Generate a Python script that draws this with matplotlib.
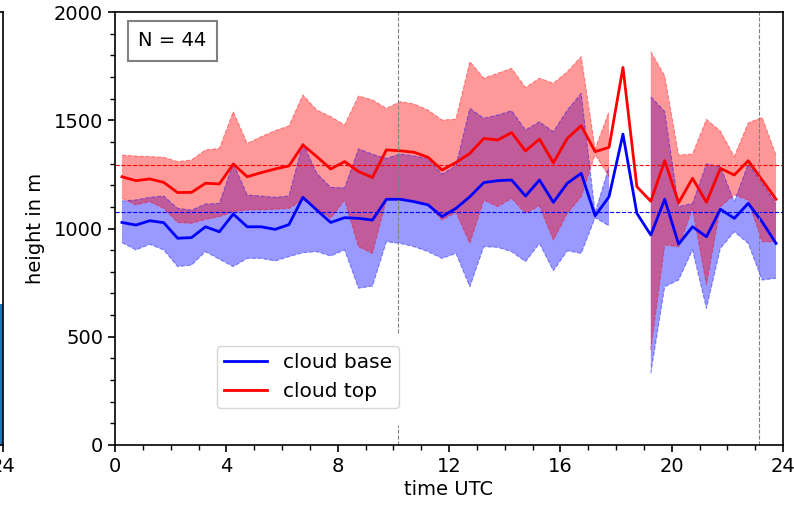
import numpy as np
import matplotlib.pyplot as plt
from matplotlib.ticker import MultipleLocator

nan = np.nan

# half-hour bins, centred on quarter hours
hours = np.arange(48) * 0.5 + 0.25

# cloud base: mean, upper and lower edge of band (m)
base_mean = [1028, 1016, 1036, 1027, 955, 958, 1008, 985, 1067, 1008, 1008, 996,
             1018, 1144, 1085, 1028, 1050, 1047, 1039, 1135, 1135, 1124, 1109, 1055,
             1093, 1147, 1212, 1221, 1224, 1150, 1224, 1121, 1209, 1255, 1059, 1147,
             1436, 1070, 970, 1135, 928, 1008, 962, 1089, 1047, 1116, 1031, 931]
base_upper = [1127, 1132, 1144, 1150, 1093, 1085, 1113, 1116, 1301, 1155, 1150, 1144,
              1150, 1393, 1255, 1190, 1188, 1368, 1343, 1324, 1344, 1335, 1324, 1251,
              1290, 1555, 1509, 1524, 1544, 1455, 1493, 1447, 1547, 1624, 1073, 1286,
              nan, nan, 1609, 1540, 1101, 1116, 1298, 1286, 1124, 1298, 1209, 1116]
base_lower = [935, 901, 927, 901, 824, 831, 893, 858, 824, 862, 862, 850,
              870, 888, 893, 873, 901, 724, 734, 939, 931, 916, 893, 862,
              885, 731, 916, 913, 893, 847, 931, 805, 897, 885, 1050, 1012,
              nan, nan, 331, 731, 762, 901, 631, 908, 985, 931, 762, 770]

# cloud top
top_mean = [1239, 1221, 1229, 1213, 1166, 1167, 1209, 1206, 1298, 1239, 1258, 1275,
            1289, 1386, 1332, 1275, 1309, 1263, 1236, 1363, 1359, 1352, 1329, 1270,
            1305, 1347, 1416, 1409, 1443, 1358, 1413, 1304, 1416, 1475, 1355, 1375,
            1744, 1193, 1126, 1313, 1119, 1232, 1121, 1278, 1247, 1313, 1224, 1135]
top_upper = [1339, 1335, 1332, 1329, 1309, 1316, 1363, 1370, 1540, 1393, 1424, 1452,
             1474, 1617, 1547, 1517, 1478, 1612, 1594, 1555, 1586, 1575, 1547, 1501,
             1505, 1771, 1694, 1717, 1740, 1651, 1694, 1671, 1724, 1794, 1368, 1540,
             nan, nan, 1817, 1705, 1339, 1344, 1504, 1450, 1332, 1488, 1513, 1339]
top_lower = [1139, 1109, 1124, 1093, 1028, 1024, 1042, 1055, 1078, 1086, 1086, 1089,
             1093, 1132, 1093, 1047, 1132, 916, 885, 1132, 1132, 1124, 1109, 1039,
             1075, 932, 1132, 1101, 1139, 1070, 1105, 947, 1070, 1147, 1342, 1239,
             nan, nan, 439, 924, 916, 1093, 739, 1101, 1155, 1132, 939, 939]

base_avg = 1078
top_avg = 1293
sun_times = [10.17, 23.14]
n_days = 44

# neighbouring panel, only its edge is visible
left_bar_x = [23.5]
left_bar_h = [650]

plt.rcParams['font.size'] = 14

fig = plt.figure(figsize=(7.94, 5.07), dpi=100)

ax0 = fig.add_axes([-0.3, 0.1223, 0.3 + 3 / 794, 0.854])
ax0.bar(left_bar_x, left_bar_h, width=2, color='tab:blue')
ax0.set_xlim(0, 24)
ax0.set_ylim(0, 2000)
ax0.set_xticks([24])
ax0.set_yticks([])
ax0.tick_params(length=5, width=1.2)
for s in ax0.spines.values():
    s.set_linewidth(1.2)

ax = fig.add_axes([115 / 794, 0.1223, 668 / 794, 0.854])

ax.fill_between(hours, base_lower, base_upper, color='blue', alpha=0.4, lw=0)
ax.plot(hours, base_upper, '--', color='blue', alpha=0.4, lw=0.8)
ax.plot(hours, base_lower, '--', color='blue', alpha=0.4, lw=0.8)
ax.fill_between(hours, top_lower, top_upper, color='red', alpha=0.4, lw=0)
ax.plot(hours, top_upper, '--', color='red', alpha=0.4, lw=0.8)
ax.plot(hours, top_lower, '--', color='red', alpha=0.4, lw=0.8)

ax.axhline(base_avg, color='blue', ls='--', lw=0.8)
ax.axhline(top_avg, color='red', ls='--', lw=0.8)

ax.plot(hours, base_mean, color='blue', lw=2, label='cloud base')
ax.plot(hours, top_mean, color='red', lw=2, label='cloud top')

# first line leaves a gap where the legend sits
ax.axvline(sun_times[0], ymin=0, ymax=0.046, color='gray', ls='--', lw=0.8)
ax.axvline(sun_times[0], ymin=0.259, ymax=1, color='gray', ls='--', lw=0.8)
ax.axvline(sun_times[1], color='gray', ls='--', lw=0.8)

ax.set_xlim(0, 24)
ax.set_ylim(0, 2000)
ax.xaxis.set_major_locator(MultipleLocator(4))
ax.xaxis.set_minor_locator(MultipleLocator(1))
ax.yaxis.set_major_locator(MultipleLocator(500))
ax.yaxis.set_minor_locator(MultipleLocator(100))
ax.tick_params(which='major', length=5, width=1.2)
ax.tick_params(which='minor', length=3.5, width=1)
for s in ax.spines.values():
    s.set_linewidth(1.2)

ax.set_xlabel('time UTC', labelpad=3)
ax.set_ylabel('height in m', labelpad=6)

ax.text(0.035, 0.955, 'N = %d' % n_days, transform=ax.transAxes, va='top', ha='left',
        fontsize=14, bbox=dict(boxstyle='square,pad=0.55', fc='white', ec='gray', lw=1.5))

ax.legend(loc='lower left', bbox_to_anchor=(0.153, 0.085), borderaxespad=0,
          fontsize=14.5, handlelength=2.1, borderpad=0.35)

fig.savefig('out.png', dpi=100)
